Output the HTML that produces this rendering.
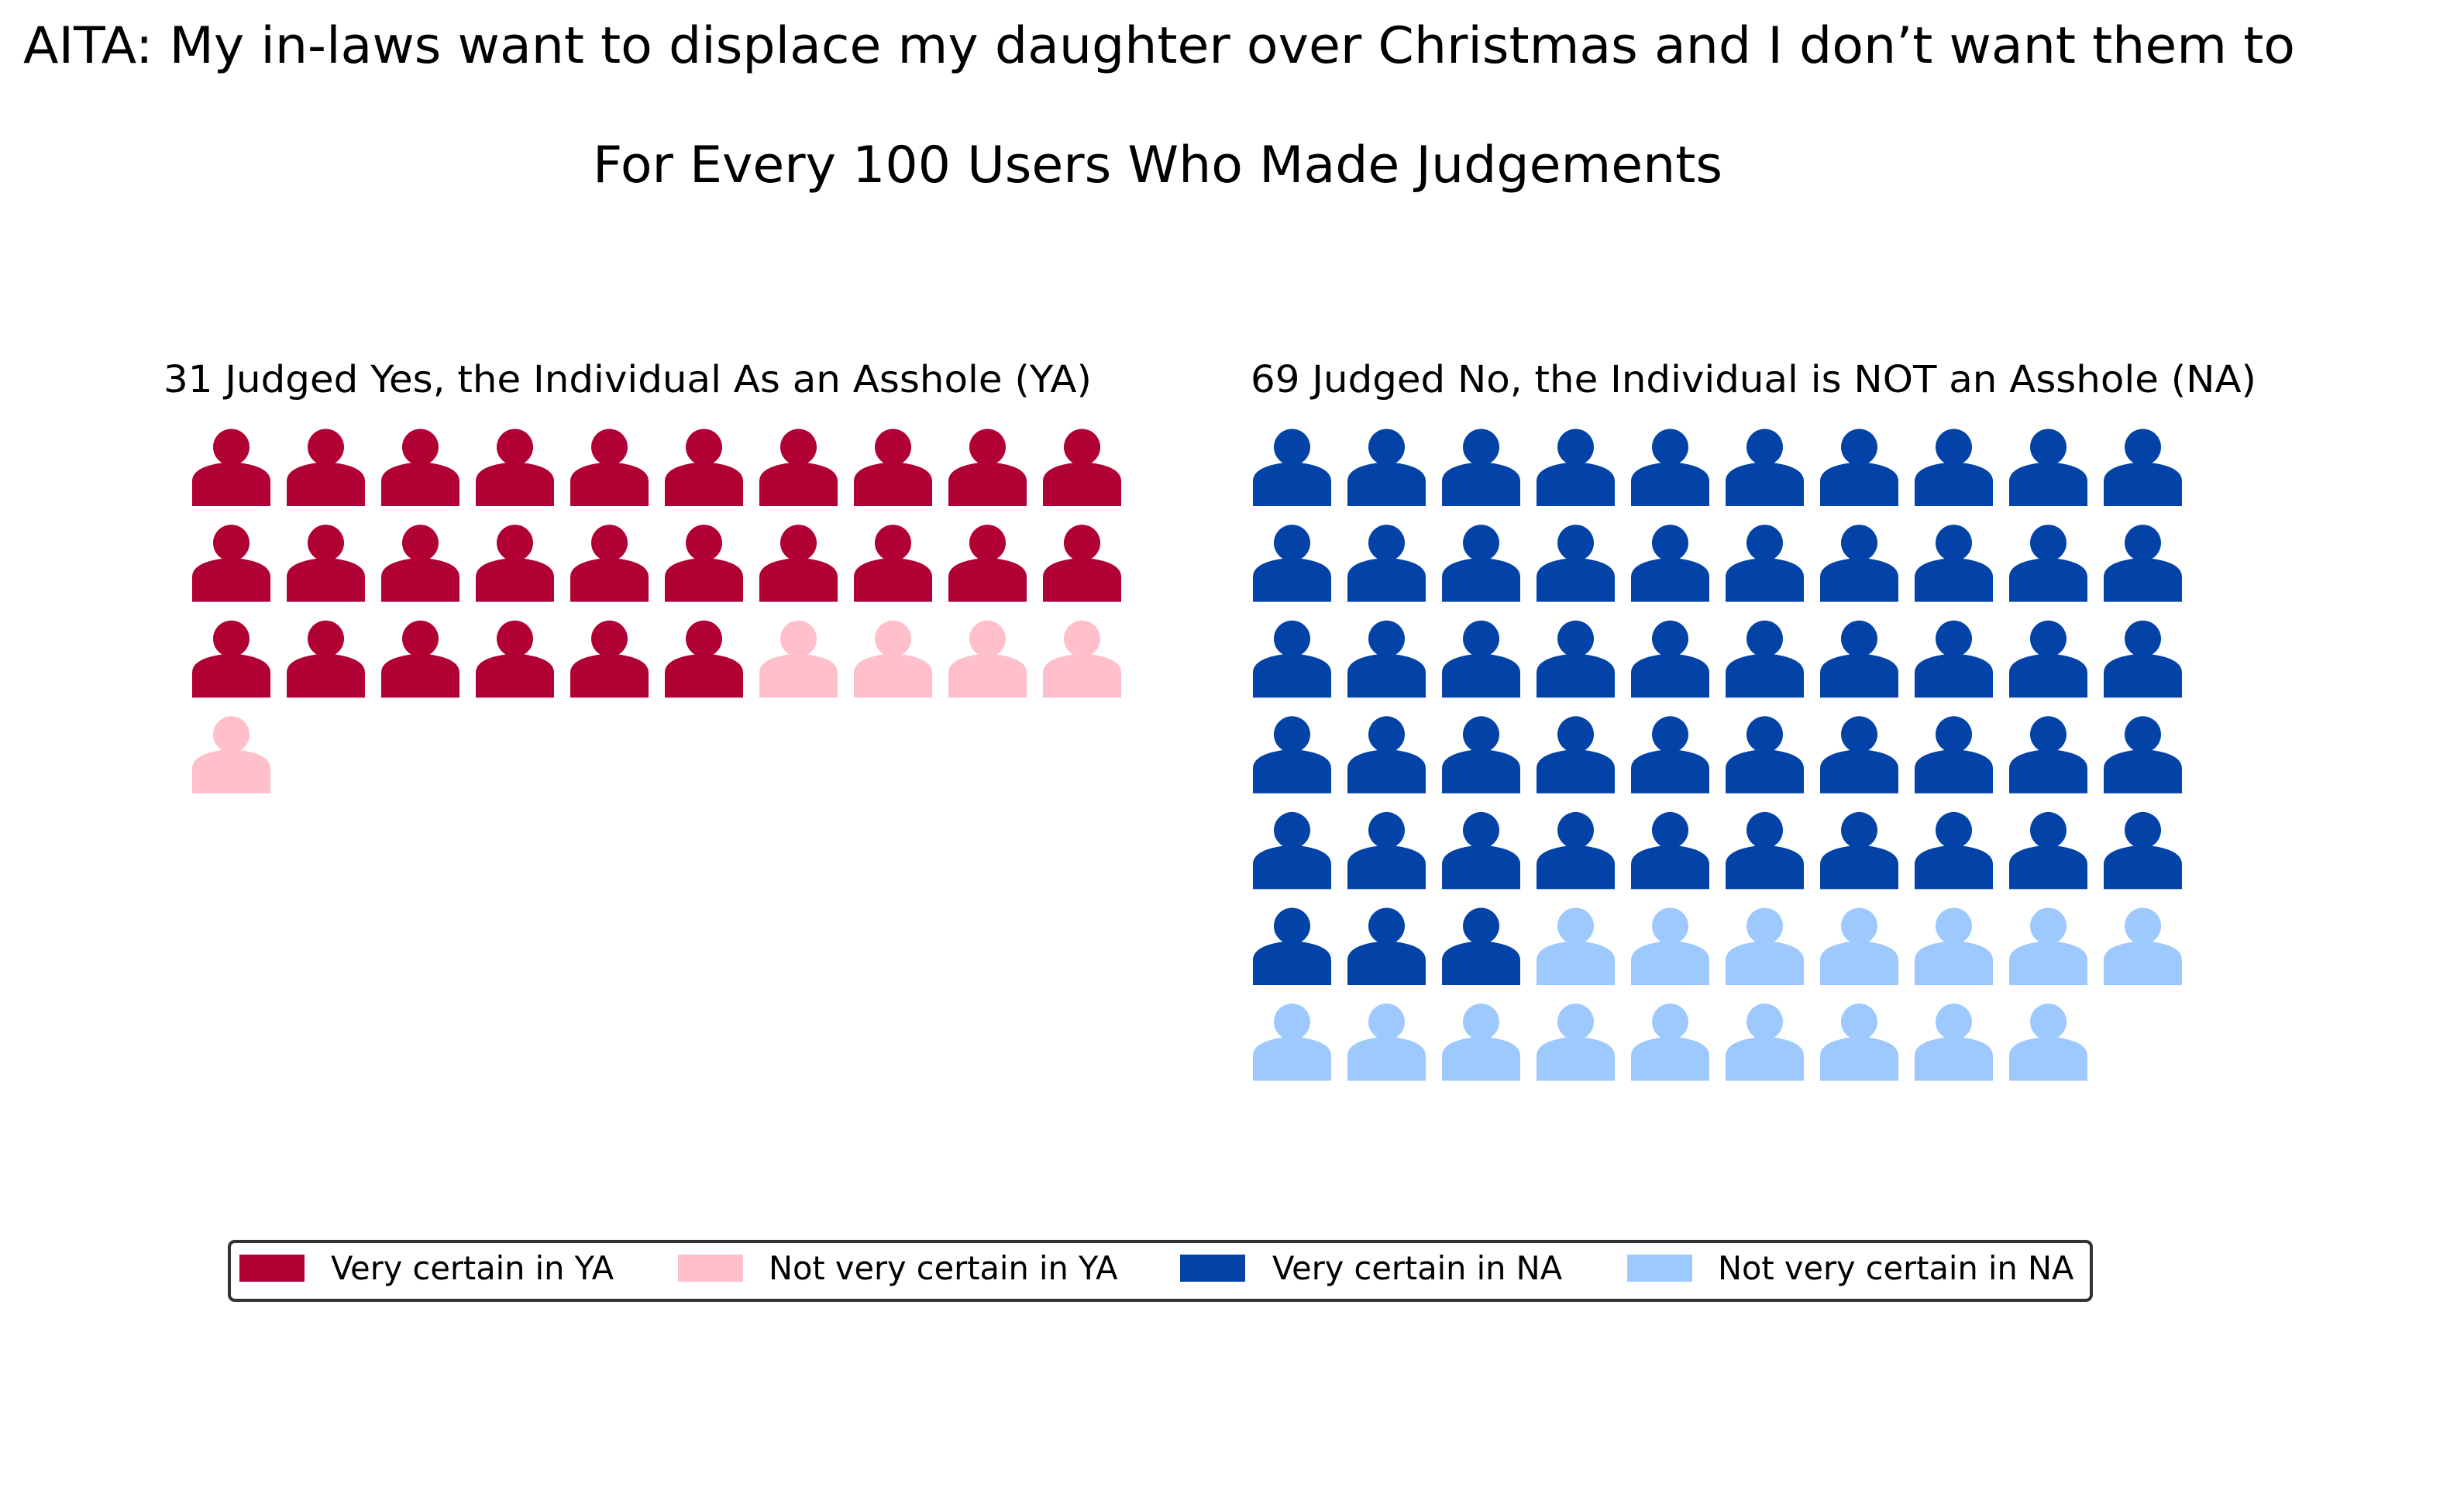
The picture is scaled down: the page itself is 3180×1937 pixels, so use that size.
<!DOCTYPE html>
<html><head><meta charset="utf-8"><style>
body{margin:0;background:#fff;}
svg{display:block;font-family:"DejaVu Sans","Liberation Sans",sans-serif;}
</style></head><body>
<svg id="chart" width="3180" height="1937" viewBox="0 0 3180 1937" xmlns="http://www.w3.org/2000/svg">
<text x="30" y="81" font-size="65" textLength="2932" lengthAdjust="spacingAndGlyphs" fill="#000">AITA: My in-laws want to displace my daughter over Christmas and I don’t want them to</text>
<text x="765" y="235" font-size="65" textLength="1458" lengthAdjust="spacingAndGlyphs" fill="#000">For Every 100 Users Who Made Judgements</text>
<text x="211" y="506" font-size="48" textLength="1198" lengthAdjust="spacingAndGlyphs" fill="#000">31 Judged Yes, the Individual As an Asshole (YA)</text>
<text x="1614" y="506" font-size="48" textLength="1298" lengthAdjust="spacingAndGlyphs" fill="#000">69 Judged No, the Individual is NOT an Asshole (NA)</text>
<g id="icons"></g>
<g>
<rect x="296" y="1602" width="2403" height="76" rx="7" fill="#fff" stroke="#333" stroke-width="4"/>
<g id="legend-items"></g>
</g>
</svg>
<script>
const panels = ["YA","NA"];
const veryCounts = [26, 53];
const notVeryCounts = [5, 16];
const veryColors = ["#b10034","#0343a8"];
const notColors = ["#ffc0cb","#9ec9ff"];
const legendLabels = ["Very certain in YA","Not very certain in YA","Very certain in NA","Not very certain in NA"];
const legendColors = ["#b10034","#ffc0cb","#0343a8","#9ec9ff"];

const NS="http://www.w3.org/2000/svg";
const gx=[248,1617], colPitch=122.0, rowPitch=123.6, firstBottom=653, cols=10;
const g=document.getElementById('icons');
panels.forEach((p,pi)=>{
  const total=veryCounts[pi]+notVeryCounts[pi];
  for(let i=0;i<total;i++){
    const c=i%cols, r=Math.floor(i/cols);
    const x=gx[pi]+c*colPitch, y=firstBottom+r*rowPitch;
    const col=i<veryCounts[pi]?veryColors[pi]:notColors[pi];
    const ic=document.createElementNS(NS,'g');
    
    
    ic.setAttribute('fill',col);
    const head=document.createElementNS(NS,'circle');
    head.setAttribute('cx',x+50.5);head.setAttribute('cy',y-76);head.setAttribute('r',23.5);
    const body=document.createElementNS(NS,'path');
    body.setAttribute('d',`M${x},${y} L${x},${y-32} Q${x},${y-53} ${x+50.5},${y-57} Q${x+101},${y-53} ${x+101},${y-32} L${x+101},${y} Z`);
    ic.appendChild(head);ic.appendChild(body);g.appendChild(ic);
  }
});
const lg=document.getElementById('legend-items');
const patchX=[309,875,1523,2100];
const textX=[427,992,1642,2217];
legendLabels.forEach((l,i)=>{
  const r=document.createElementNS(NS,'rect');
  
  
  r.setAttribute('x',patchX[i]);r.setAttribute('y',1619);r.setAttribute('width',84);r.setAttribute('height',35);r.setAttribute('fill',legendColors[i]);
  lg.appendChild(r);
  const t=document.createElementNS(NS,'text');
  
  
  t.setAttribute('x',textX[i]);t.setAttribute('y',1651);t.setAttribute('font-size',41.5);
  t.textContent=l;lg.appendChild(t);
});
</script>
</body></html>
